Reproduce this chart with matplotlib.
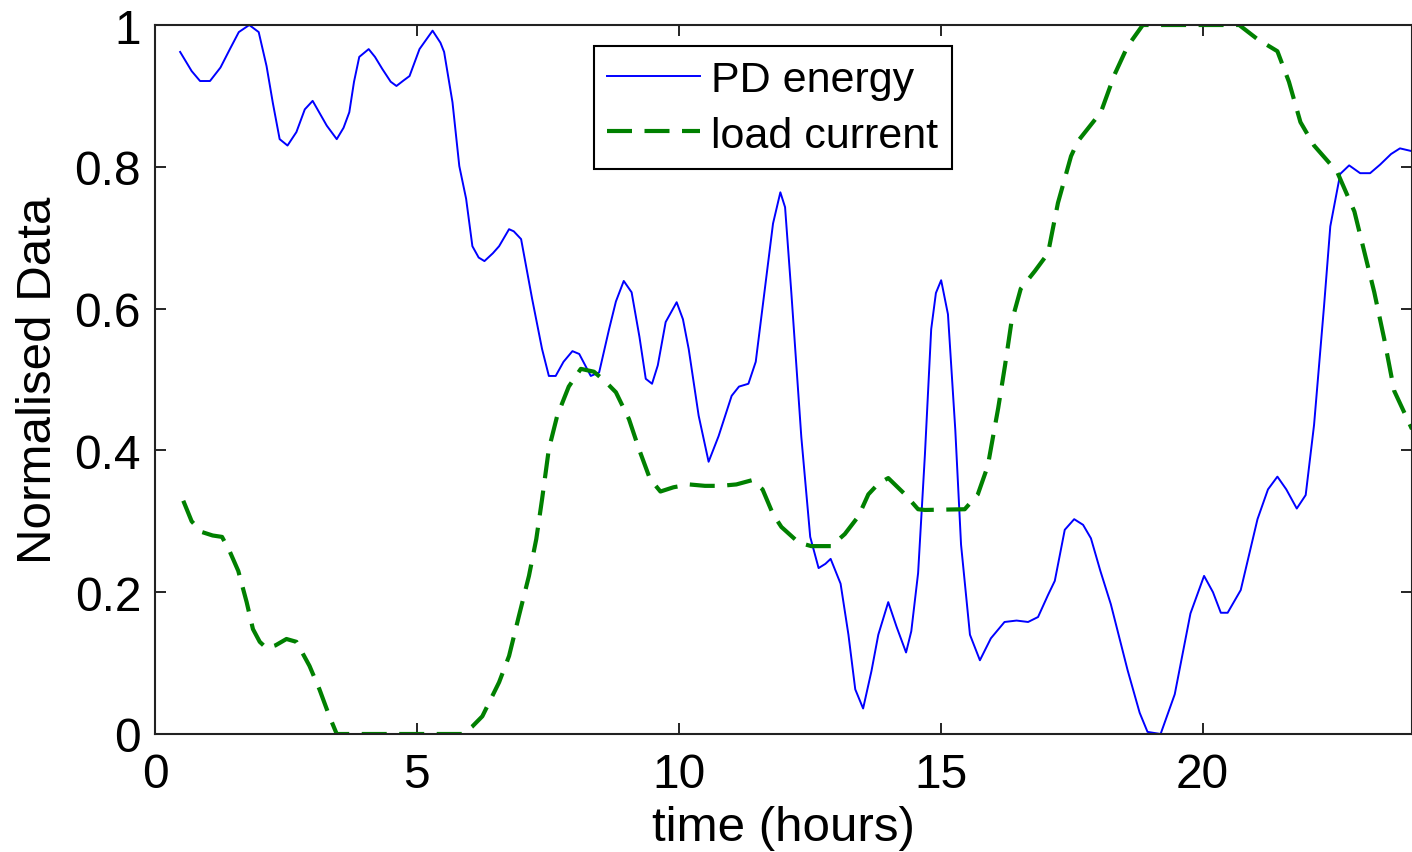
import matplotlib
matplotlib.use("Agg")
import matplotlib.pyplot as plt

plt.rcParams['font.family'] = ['Liberation Sans', 'DejaVu Sans']

# PD energy (blue solid)
pd_x = [0.48, 0.70, 0.86, 1.05, 1.25, 1.43, 1.60, 1.80, 1.98, 2.13, 2.25, 2.38, 2.53, 2.70, 2.86,
        3.01, 3.15, 3.28, 3.47, 3.60, 3.71, 3.80, 3.90, 4.08, 4.20, 4.34, 4.50, 4.61, 4.75, 4.86,
        5.05, 5.30, 5.45, 5.52, 5.68, 5.81, 5.94, 6.06, 6.18, 6.29, 6.45, 6.57, 6.76, 6.85, 6.99,
        7.20, 7.39, 7.52, 7.65, 7.80, 7.97, 8.10, 8.32, 8.48, 8.67, 8.80, 8.95, 9.10, 9.25, 9.37,
        9.49, 9.60, 9.75, 9.96, 10.08, 10.19, 10.38, 10.57, 10.76, 11.01, 11.15, 11.33, 11.47, 11.66, 11.80,
        11.94, 12.03, 12.15, 12.34, 12.51, 12.67, 12.80, 12.90, 13.09, 13.24, 13.37, 13.52, 13.68, 13.81, 14.00,
        14.16, 14.34, 14.44, 14.57, 14.70, 14.82, 14.91, 15.01, 15.14, 15.28, 15.39, 15.56, 15.75, 15.96, 16.22,
        16.45, 16.67, 16.86, 17.05, 17.18, 17.37, 17.55, 17.72, 17.87, 18.05, 18.25, 18.57, 18.80, 18.95, 19.20,
        19.47, 19.77, 20.03, 20.20, 20.35, 20.48, 20.73, 21.05, 21.25, 21.43, 21.60, 21.80, 21.97, 22.13, 22.32,
        22.44, 22.63, 22.80, 23.01, 23.20, 23.39, 23.60, 23.77, 24.00]
pd_y = [0.962, 0.935, 0.921, 0.921, 0.940, 0.966, 0.990, 1.000, 0.990, 0.942, 0.890, 0.839, 0.830, 0.849, 0.881,
        0.893, 0.875, 0.858, 0.839, 0.855, 0.877, 0.920, 0.955, 0.966, 0.955, 0.938, 0.920, 0.914, 0.922, 0.928,
        0.966, 0.992, 0.975, 0.962, 0.891, 0.801, 0.755, 0.688, 0.672, 0.667, 0.678, 0.688, 0.712, 0.709, 0.698,
        0.614, 0.543, 0.505, 0.505, 0.525, 0.540, 0.536, 0.505, 0.510, 0.571, 0.610, 0.639, 0.623, 0.560, 0.501,
        0.494, 0.520, 0.581, 0.609, 0.585, 0.543, 0.449, 0.384, 0.420, 0.477, 0.490, 0.494, 0.525, 0.637, 0.720,
        0.764, 0.743, 0.622, 0.419, 0.278, 0.234, 0.240, 0.247, 0.212, 0.140, 0.063, 0.036, 0.089, 0.140, 0.186,
        0.151, 0.115, 0.145, 0.227, 0.394, 0.571, 0.622, 0.640, 0.592, 0.429, 0.267, 0.140, 0.104, 0.135, 0.158,
        0.160, 0.158, 0.165, 0.196, 0.216, 0.288, 0.303, 0.295, 0.276, 0.230, 0.183, 0.090, 0.030, 0.003, 0.000,
        0.056, 0.170, 0.223, 0.200, 0.171, 0.171, 0.203, 0.303, 0.345, 0.363, 0.345, 0.318, 0.337, 0.436, 0.603,
        0.716, 0.790, 0.802, 0.791, 0.791, 0.803, 0.818, 0.826, 0.822]

# load current (green dashed)
lc_x = [0.54, 0.70, 0.89, 1.10, 1.28, 1.43, 1.59, 1.75, 1.87, 2.00, 2.13, 2.30, 2.51, 2.70, 2.95,
        3.14, 3.33, 3.47, 4.00, 5.00, 5.87, 6.05, 6.25, 6.57, 6.76, 6.95, 7.14, 7.28, 7.39, 7.52,
        7.68, 7.90, 8.13, 8.38, 8.60, 8.80, 9.05, 9.24, 9.45, 9.65, 9.90, 10.20, 10.50, 10.80, 11.10,
        11.40, 11.60, 11.80, 11.96, 12.29, 12.53, 12.91, 13.17, 13.43, 13.62, 13.81, 14.00, 14.32, 14.57, 14.70,
        15.46, 15.71, 15.90, 16.10, 16.23, 16.35, 16.53, 16.80, 17.05, 17.24, 17.49, 17.62, 18.06, 18.32, 18.57,
        18.86, 19.50, 20.00, 20.70, 21.05, 21.43, 21.65, 21.87, 22.13, 22.57, 22.90, 23.28, 23.47, 23.66, 24.00]
lc_y = [0.329, 0.300, 0.285, 0.280, 0.278, 0.257, 0.230, 0.186, 0.148, 0.130, 0.121, 0.125, 0.134, 0.130, 0.096,
        0.063, 0.025, 0.000, 0.000, 0.000, 0.000, 0.010, 0.025, 0.073, 0.110, 0.167, 0.223, 0.275, 0.331, 0.402,
        0.449, 0.490, 0.515, 0.511, 0.497, 0.482, 0.444, 0.402, 0.360, 0.342, 0.348, 0.352, 0.350, 0.350, 0.352,
        0.358, 0.345, 0.310, 0.292, 0.270, 0.265, 0.265, 0.282, 0.307, 0.338, 0.353, 0.361, 0.338, 0.317, 0.316,
        0.317, 0.338, 0.378, 0.460, 0.520, 0.580, 0.628, 0.653, 0.678, 0.749, 0.815, 0.836, 0.877, 0.930, 0.970,
        1.000, 1.000, 1.000, 1.000, 0.980, 0.963, 0.920, 0.863, 0.830, 0.793, 0.737, 0.623, 0.557, 0.484, 0.430]

x_ticks = [0, 5, 10, 15, 20]
y_ticks = [0, 0.2, 0.4, 0.6, 0.8, 1]
y_tick_labels = ['0', '0.2', '0.4', '0.6', '0.8', '1']

fig = plt.figure(figsize=(14.12, 8.53), dpi=100)
ax = fig.add_axes([155/1412, 118/853, 1257/1412, 709/853])

ax.plot(pd_x, pd_y, color='#0000ff', lw=1.4, label='PD energy')
ax.plot(lc_x, lc_y, color='#008000', lw=3.0, dashes=(6, 3), label='load current')

ax.set_xlim(0, 24)
ax.set_ylim(0, 1)
ax.set_xticks(x_ticks)
ax.set_xticklabels([str(t) for t in x_ticks])
ax.set_yticks(y_ticks)
ax.set_yticklabels(y_tick_labels)
ax.tick_params(direction='in', length=8, width=1.2, top=True, right=True,
               labelsize=34.5, pad=10)
ax.tick_params(axis='x', pad=13)
for s in ax.spines.values():
    s.set_linewidth(1.5)
    s.set_color('#222222')

ax.set_xlabel('time (hours)', fontsize=35.5, labelpad=6)
ax.set_ylabel('Normalised Data', fontsize=35.5, labelpad=10)

leg = ax.legend(loc='upper left', bbox_to_anchor=(0.349, 0.970), fontsize=31,
                frameon=True, fancybox=False, framealpha=1, edgecolor='black',
                handlelength=2.16, handletextpad=0.25, borderpad=0.32, labelspacing=0.36,
                borderaxespad=0)
leg.get_frame().set_linewidth(1.5)

fig.savefig('out.png', dpi=100)
